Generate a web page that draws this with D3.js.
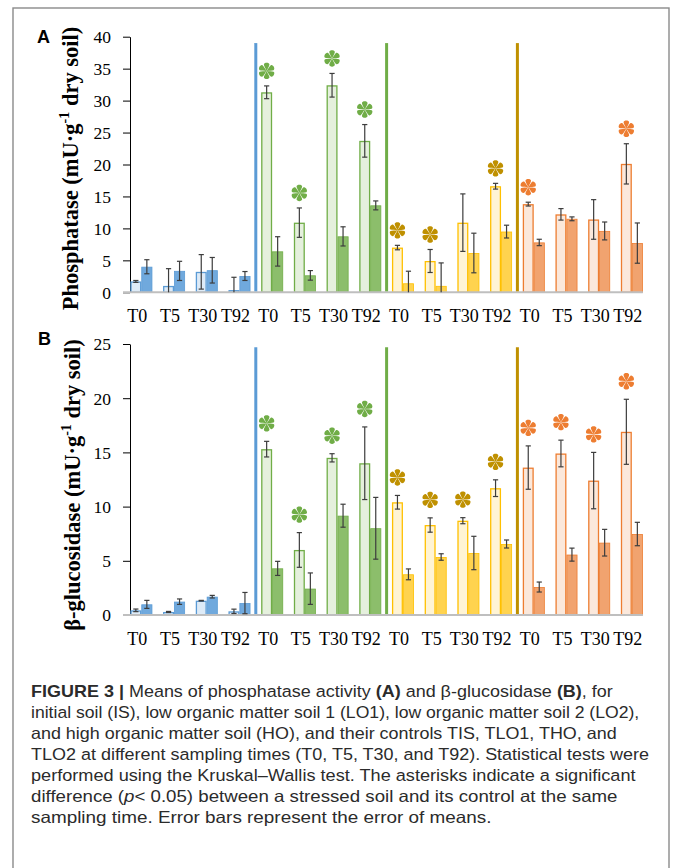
<!DOCTYPE html>
<html>
<head>
<meta charset="utf-8">
<script src="https://cdn.jsdelivr.net/npm/d3@7"></script>
<style>
  body { margin: 0; background: #fff; }
  svg { display: block; }
  .serif { font-family: 'Liberation Serif', 'Times New Roman', serif; }
  .caption { font-family: 'Liberation Sans', Arial, sans-serif; font-size: 16.5px; fill: #2b2b2b; }
</style>
</head>
<body>
<svg id="fig" width="673" height="868"></svg>
<script>
// categories
const times = ['T0', 'T5', 'T30', 'T92']
const soils = ['IS', 'LO1', 'LO2', 'HO']

// (A) phosphatase, 16 groups: IS T0..T92, LO1 T0..T92, LO2 ..., HO ...
// light bars = stressed soils, dark bars = their controls
const phosSoil = [1.7, 1.0, 3.2, 0.35, 31.3, 10.9, 32.4, 23.7, 7.0, 4.9, 10.9, 16.6, 13.8, 12.2, 11.4, 20.1]
const phosSoilErr = [0.15, 2.7, 2.7, 2.0, 1.0, 2.3, 1.85, 2.55, 0.35, 1.8, 4.5, 0.45, 0.3, 0.9, 3.1, 3.15]
const phosCtrl = [4.0, 3.35, 3.45, 2.55, 6.4, 2.65, 8.75, 13.6, 1.4, 1.0, 6.15, 9.5, 7.8, 11.5, 9.6, 7.7]
const phosCtrlErr = [1.1, 1.5, 2.0, 0.7, 2.3, 0.75, 1.5, 0.7, 1.9, 3.6, 3.1, 1.0, 0.5, 0.3, 1.4, 3.15]
const phosSig = [0, 0, 0, 0, 1, 1, 1, 1, 1, 1, 0, 1, 1, 0, 0, 1]

// (B) beta-glucosidase
const glucSoil = [0.43, 0.28, 1.32, 0.34, 15.3, 6.0, 14.5, 14.0, 10.4, 8.3, 8.7, 11.7, 13.6, 14.9, 12.4, 16.9]
const glucSoilErr = [0.12, 0.05, 0.03, 0.2, 0.72, 1.6, 0.38, 3.35, 0.63, 0.66, 0.28, 0.77, 2.0, 1.23, 2.6, 3.0]
const glucCtrl = [0.98, 1.23, 1.69, 1.1, 4.3, 2.43, 9.16, 8.0, 3.75, 5.35, 5.72, 6.55, 2.58, 5.57, 6.67, 7.47]
const glucCtrlErr = [0.37, 0.25, 0.12, 0.98, 0.65, 1.45, 1.06, 2.85, 0.5, 0.3, 1.54, 0.37, 0.46, 0.6, 1.23, 1.08]
const glucSig = [0, 0, 0, 0, 1, 1, 1, 1, 1, 1, 1, 1, 1, 1, 1, 1]

// colours per soil
const strokeCol = {IS: '#5b9bd5', LO1: '#70ad47', LO2: '#ffc000', HO: '#ed7d31'}
const lightCol = {IS: '#deebf7', LO1: '#e5f0dd', LO2: '#fff4d4', HO: '#fbe8db'}
const darkCol = {IS: '#70a9dd', LO1: '#8cbe6b', LO2: '#ffd34f', HO: '#f1a36f'}
const starCol = {IS: '#5b9bd5', LO1: '#70ad47', LO2: '#bf9000', HO: '#ed7d31'}
const sepCol = ['#5b9bd5', '#70ad47', '#bf9000']

const svg = d3.select('#fig')

// outer frame of the figure
svg.append('rect')
    .attr('x', 13).attr('y', 8)
    .attr('width', 656).attr('height', 880)
    .attr('fill', 'none')
    .attr('stroke', '#8a8a8a')
    .attr('stroke-width', 1.4)

let x = d3.scaleBand()
          .domain(d3.range(16))
          .range([125, 648.2])
let sub = d3.scaleBand()
          .domain(['soil', 'ctrl'])
          .range([0, 22])

// one teardrop petal of the asterisk, pointed at the centre
const petal = 'M0,0 C-0.8,-2.2 -2.8,-5 -2.8,-6.4 C-2.8,-8.8 2.8,-8.8 2.8,-6.4 C2.8,-5 0.8,-2.2 0,0 Z'

function panel (opts) {
  let y = d3.scaleLinear()
            .domain([0, opts.yMax])
            .range(opts.yRange)

  let rows = d3.range(16).map(i => ({
    i: i,
    soil: soils[Math.floor(i / 4)],
    v: opts.soil[i], e: opts.soilErr[i],
    c: opts.ctrl[i], ce: opts.ctrlErr[i],
    sig: opts.sig[i]
  }))
  let left = d => x(d.i) + x.bandwidth() / 2 - sub.bandwidth()

  let g = svg.append('g')

  // panel letter
  g.append('text')
      .attr('x', opts.letterX).attr('y', opts.letterY)
      .style('font-family', "'Liberation Sans', Arial, sans-serif")
      .style('font-weight', 'bold')
      .style('font-size', '18px')
      .text(opts.letter)

  // y axis
  let yAxis = g.append('g')
      .attr('class', 'serif')
      .attr('transform', 'translate(130,0)')
      .call(d3.axisLeft(y).tickValues(d3.range(0, opts.yMax + 1, 5)).tickSize(7).tickSizeOuter(0).tickPadding(12))
  yAxis.selectAll('text').style('font-size', '17.5px').attr('fill', '#000').attr('dy', '0.34em')
  yAxis.selectAll('line, path').attr('stroke', '#000')

  // bars: stressed soil
  g.append('g').selectAll('rect').data(rows).join('rect')
      .attr('x', d => left(d) + sub('soil') + 0.65)
      .attr('y', d => y(d.v) + 0.65)
      .attr('width', sub.bandwidth() - 1.3)
      .attr('height', d => Math.max(0, y(0) - y(d.v) - 0.65))
      .attr('fill', d => lightCol[d.soil])
      .attr('stroke', d => strokeCol[d.soil])
      .attr('stroke-width', 1.3)

  // bars: control
  g.append('g').selectAll('rect').data(rows).join('rect')
      .attr('x', d => left(d) + sub('ctrl') + 0.4)
      .attr('y', d => y(d.c) + 0.4)
      .attr('width', sub.bandwidth() - 0.8)
      .attr('height', d => y(0) - y(d.c) - 0.4)
      .attr('fill', d => darkCol[d.soil])
      .attr('stroke', d => strokeCol[d.soil])
      .attr('stroke-width', 0.8)

  // x axis line
  g.append('line')
      .attr('x1', 123).attr('x2', x(15) + x.bandwidth() / 2 + sub.bandwidth())
      .attr('y1', y(0)).attr('y2', y(0))
      .attr('stroke', '#bfbfbf')
      .attr('stroke-width', 2)

  // error bars
  let errs = []
  rows.forEach(d => {
    errs.push({cx: left(d) + sub('soil') + sub.bandwidth() / 2, v: d.v, e: d.e})
    errs.push({cx: left(d) + sub('ctrl') + sub.bandwidth() / 2, v: d.c, e: d.ce})
  })
  let eg = g.append('g').attr('stroke', '#3d3d3d').attr('stroke-width', 1.2)
  eg.selectAll('.stem').data(errs).join('line')
      .attr('x1', d => d.cx).attr('x2', d => d.cx)
      .attr('y1', d => y(d.v + d.e)).attr('y2', d => y(Math.max(0, d.v - d.e)))
  eg.selectAll('.capTop').data(errs).join('line')
      .attr('x1', d => d.cx - 2.6).attr('x2', d => d.cx + 2.6)
      .attr('y1', d => y(d.v + d.e)).attr('y2', d => y(d.v + d.e))
  eg.selectAll('.capBot').data(errs.filter(d => d.v - d.e > 0)).join('line')
      .attr('x1', d => d.cx - 2.6).attr('x2', d => d.cx + 2.6)
      .attr('y1', d => y(d.v - d.e)).attr('y2', d => y(d.v - d.e))

  // asterisks over significant pairs
  let stars = g.append('g').selectAll('g').data(rows.filter(d => d.sig)).join('g')
      .attr('transform', d => 'translate(' + (left(d) + sub('soil') + sub.bandwidth() / 2) + ',' + (y(d.v + d.e) - opts.starGap) + ')')
      .attr('fill', d => starCol[d.soil])
  stars.selectAll('path').data(d3.range(6)).join('path')
      .attr('d', petal)
      .attr('transform', k => 'rotate(' + k * 60 + ')')

  // soil separators
  g.append('g').selectAll('line').data([4, 8, 12]).join('line')
      .attr('x1', i => x(i)).attr('x2', i => x(i))
      .attr('y1', y(opts.sepTop)).attr('y2', y(0) - 1)
      .attr('stroke', (i, k) => sepCol[k])
      .attr('stroke-width', 3)

  // x labels
  let xAxis = g.append('g')
      .attr('class', 'serif')
      .attr('transform', 'translate(-4,' + y(0) + ')')
      .call(d3.axisBottom(x).tickSize(0).tickFormat(i => times[i % 4]))
  xAxis.select('.domain').remove()
  xAxis.selectAll('text')
      .style('font-size', '18px')
      .attr('fill', '#000')
      .attr('y', 30).attr('dy', 0)

  // y title
  let t = g.append('text')
      .attr('class', 'serif')
      .attr('transform', 'translate(' + opts.titleX + ',' + opts.titleY + ') rotate(-90)')
      .attr('text-anchor', 'middle')
      .style('font-weight', 'bold')
      .style('font-size', '22.5px')
  t.append('tspan').text(opts.title + ' (mU·g')
  t.append('tspan').attr('dy', -9).style('font-size', '14px').text('-1')
  t.append('tspan').attr('dy', 9).text(' dry soil)')
}

panel({
  letter: 'A', letterX: 37, letterY: 43,
  yMax: 40, yRange: [292.3, 36.7], sepTop: 39,
  soil: phosSoil, soilErr: phosSoilErr, ctrl: phosCtrl, ctrlErr: phosCtrlErr, sig: phosSig,
  starGap: 15,
  title: 'Phosphatase', titleX: 78, titleY: 168.5
})

panel({
  letter: 'B', letterX: 38, letterY: 345,
  yMax: 25, yRange: [615, 344], sepTop: 24.7,
  soil: glucSoil, soilErr: glucSoilErr, ctrl: glucCtrl, ctrlErr: glucCtrlErr, sig: glucSig,
  starGap: 18,
  title: 'β-glucosidase', titleX: 80, titleY: 485
})

// caption, each line squeezed to the width it has in the figure
const caption = [
  [['FIGURE 3 | ', 'b'], ['Means of phosphatase activity '], ['(A)', 'b'], [' and β-glucosidase '], ['(B)', 'b'], [', for']],
  [['initial soil (IS), low organic matter soil 1 (LO1), low organic matter soil 2 (LO2),']],
  [['and high organic matter soil (HO), and their controls TIS, TLO1, THO, and']],
  [['TLO2 at different sampling times (T0, T5, T30, and T92). Statistical tests were']],
  [['performed using the Kruskal–Wallis test. The asterisks indicate a significant']],
  [['difference ('], ['p', 'i'], ['< 0.05) between a stressed soil and its control at the same']],
  [['sampling time. Error bars represent the error of means.']]
]
const captionRight = [613, 640, 617, 649, 636, 618, 492]

caption.forEach((line, k) => {
  let txt = svg.append('text').attr('class', 'caption')
  line.forEach(s => {
    txt.append('tspan')
        .style('font-weight', s[1] === 'b' ? 'bold' : null)
        .style('font-style', s[1] === 'i' ? 'italic' : null)
        .text(s[0])
  })
  let w = txt.node().getComputedTextLength()
  let sx = (captionRight[k] - 31) / w
  txt.attr('transform', 'translate(31,' + (696.5 + k * 21.1) + ') scale(' + sx + ',1)')
})
</script>
</body>
</html>
